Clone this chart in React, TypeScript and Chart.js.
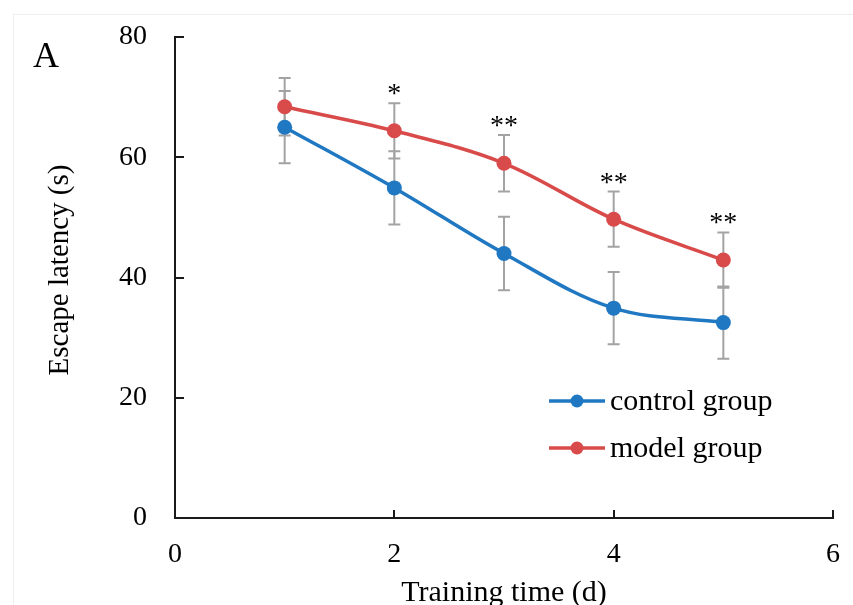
import React, { useEffect, useRef } from "react";
import { Chart, registerables } from "chart.js";

Chart.register(...registerables);

// ---- data ----
const days = [1, 2, 3, 4, 5];
const controlMean = [65.0, 54.9, 44.0, 34.9, 32.5];
const controlErr = [6.0, 6.1, 6.1, 6.0, 6.0];
const modelMean = [68.4, 64.4, 59.0, 49.7, 42.9];
const modelErr = [4.8, 4.6, 4.7, 4.6, 4.6];
const significance = ["", "*", "**", "**", "**"];
const xTicks = [0, 2, 4, 6];
const yTicks = [0, 20, 40, 60, 80];
const seriesNames = ["control group", "model group"];
const panelLabel = "A";
const xTitle = "Training time (d)";
const yTitle = "Escape latency (s)";

const BLUE = "#1f78c1";
const RED = "#d94a4a";
const GREY = "#a3a3a3";
const AXIS = "#1a1a1a";
const FONT = '"Liberation Serif", "Times New Roman", serif';

export default function App() {
  const ref = useRef<HTMLCanvasElement | null>(null);

  useEffect(() => {
    const canvas = ref.current;
    if (!canvas) return;

    const errorBars = {
      id: "errorBars",
      beforeDatasetsDraw(chart: any) {
        const { ctx } = chart;
        const xs = chart.scales.x;
        const ys = chart.scales.y;
        const sets = [
          { m: controlMean, e: controlErr },
          { m: modelMean, e: modelErr },
        ];
        ctx.save();
        ctx.strokeStyle = GREY;
        ctx.lineWidth = 2;
        sets.forEach((s) => {
          days.forEach((d, j) => {
            const x = xs.getPixelForValue(d);
            const yt = ys.getPixelForValue(s.m[j] + s.e[j]);
            const yb = ys.getPixelForValue(s.m[j] - s.e[j]);
            ctx.beginPath();
            ctx.moveTo(x, yt);
            ctx.lineTo(x, yb);
            ctx.moveTo(x - 6, yt);
            ctx.lineTo(x + 6, yt);
            ctx.moveTo(x - 6, yb);
            ctx.lineTo(x + 6, yb);
            ctx.stroke();
          });
        });
        ctx.restore();
      },
    };

    const extras = {
      id: "extras",
      afterDraw(chart: any) {
        const { ctx, chartArea } = chart;
        const xs = chart.scales.x;
        const ys = chart.scales.y;
        ctx.save();
        // inner tick marks
        ctx.strokeStyle = AXIS;
        ctx.lineWidth = 2;
        ctx.beginPath();
        xTicks.forEach((v) => {
          if (v === xTicks[0]) return;
          const px = Math.round(xs.getPixelForValue(v));
          ctx.moveTo(px, chartArea.bottom);
          ctx.lineTo(px, chartArea.bottom - 8);
        });
        yTicks.forEach((v) => {
          if (v === yTicks[0]) return;
          const py = Math.round(ys.getPixelForValue(v));
          ctx.moveTo(chartArea.left, py);
          ctx.lineTo(chartArea.left + 9, py);
        });
        ctx.stroke();

        // significance stars
        ctx.fillStyle = "#000";
        ctx.font = `28px ${FONT}`;
        ctx.textAlign = "center";
        ctx.textBaseline = "alphabetic";
        days.forEach((d, j) => {
          if (!significance[j]) return;
          const x = xs.getPixelForValue(d);
          const y = ys.getPixelForValue(modelMean[j] + modelErr[j]);
          ctx.fillText(significance[j], x, y - 1);
        });

        // panel label
        ctx.textAlign = "left";
        ctx.font = `36px ${FONT}`;
        ctx.fillText(panelLabel, 33, 67);

        // y title
        ctx.save();
        ctx.font = `29px ${FONT}`;
        ctx.translate(68, 270);
        ctx.rotate(-Math.PI / 2);
        ctx.textAlign = "center";
        ctx.textBaseline = "alphabetic";
        ctx.fillText(yTitle, 0, 0);
        ctx.restore();

        // legend
        const colors = [BLUE, RED];
        const rows = [401, 448];
        colors.forEach((c, i) => {
          const y = rows[i];
          ctx.strokeStyle = c;
          ctx.lineWidth = 3.5;
          ctx.beginPath();
          ctx.moveTo(549, y);
          ctx.lineTo(605, y);
          ctx.stroke();
          ctx.fillStyle = c;
          ctx.beginPath();
          ctx.arc(577, y, 6.5, 0, Math.PI * 2);
          ctx.fill();
          ctx.fillStyle = "#000";
          ctx.font = `30px ${FONT}`;
          ctx.textAlign = "left";
          ctx.textBaseline = "alphabetic";
          ctx.fillText(seriesNames[i], 610, y + 9);
        });
        ctx.restore();
      },
    };

    const chart = new Chart(canvas, {
      type: "line",
      data: {
        datasets: [
          {
            label: seriesNames[0],
            data: days.map((d, j) => ({ x: d, y: controlMean[j] })),
            borderColor: BLUE,
            backgroundColor: BLUE,
            borderWidth: 3.5,
            pointRadius: 7.5,
            pointBorderWidth: 0,
            pointHoverRadius: 7.5,
            tension: 0.35,
            clip: false as any,
          },
          {
            label: seriesNames[1],
            data: days.map((d, j) => ({ x: d, y: modelMean[j] })),
            borderColor: RED,
            backgroundColor: RED,
            borderWidth: 3.5,
            pointRadius: 7.5,
            pointBorderWidth: 0,
            pointHoverRadius: 7.5,
            tension: 0.35,
            clip: false as any,
          },
        ],
      },
      options: {
        animation: false,
        responsive: false,
        devicePixelRatio: 1,
        events: [],
        layout: { padding: { top: 37, right: 20, left: 0, bottom: 0 } },
        plugins: {
          legend: { display: false },
          tooltip: { enabled: false },
        },
        scales: {
          x: {
            type: "linear",
            min: 0,
            max: 6,
            afterBuildTicks: (s: any) => {
              s.ticks = xTicks.map((v) => ({ value: v }));
            },
            afterFit: (s: any) => {
              s.height = 87;
              s.paddingLeft = 0;
              s.paddingRight = 0;
            },
            grid: { display: false, drawTicks: false },
            border: { display: true, color: AXIS, width: 2 },
            ticks: {
              padding: 20,
              color: "#000",
              font: { family: FONT, size: 28 },
              maxRotation: 0,
            },
            title: {
              display: true,
              text: xTitle,
              color: "#000",
              font: { family: FONT, size: 30 },
              padding: { top: 0, bottom: -6 },
            },
          },
          y: {
            type: "linear",
            min: 0,
            max: 80,
            afterBuildTicks: (s: any) => {
              s.ticks = yTicks.map((v) => ({ value: v }));
            },
            afterFit: (s: any) => {
              s.width = 175;
              s.paddingTop = 0;
              s.paddingBottom = 0;
            },
            grid: { display: false, drawTicks: false },
            border: { display: true, color: AXIS, width: 2 },
            ticks: {
              padding: 28,
              color: "#000",
              font: { family: FONT, size: 28 },
            },
          },
        },
      },
      plugins: [errorBars, extras],
    } as any);

    return () => chart.destroy();
  }, []);

  return (
    <div
      style={{
        position: "fixed",
        left: 0,
        top: 0,
        width: 853,
        height: 605,
        background: "#fff",
        overflow: "hidden",
      }}
    >
      <div
        style={{
          position: "absolute",
          left: 13,
          top: 14,
          right: 0,
          bottom: 0,
          borderLeft: "1px solid #eeeeee",
          borderTop: "1px solid #eeeeee",
        }}
      />
      <canvas
        ref={ref}
        width={853}
        height={605}
        style={{ position: "absolute", left: 0, top: 0, display: "block" }}
      />
    </div>
  );
}
